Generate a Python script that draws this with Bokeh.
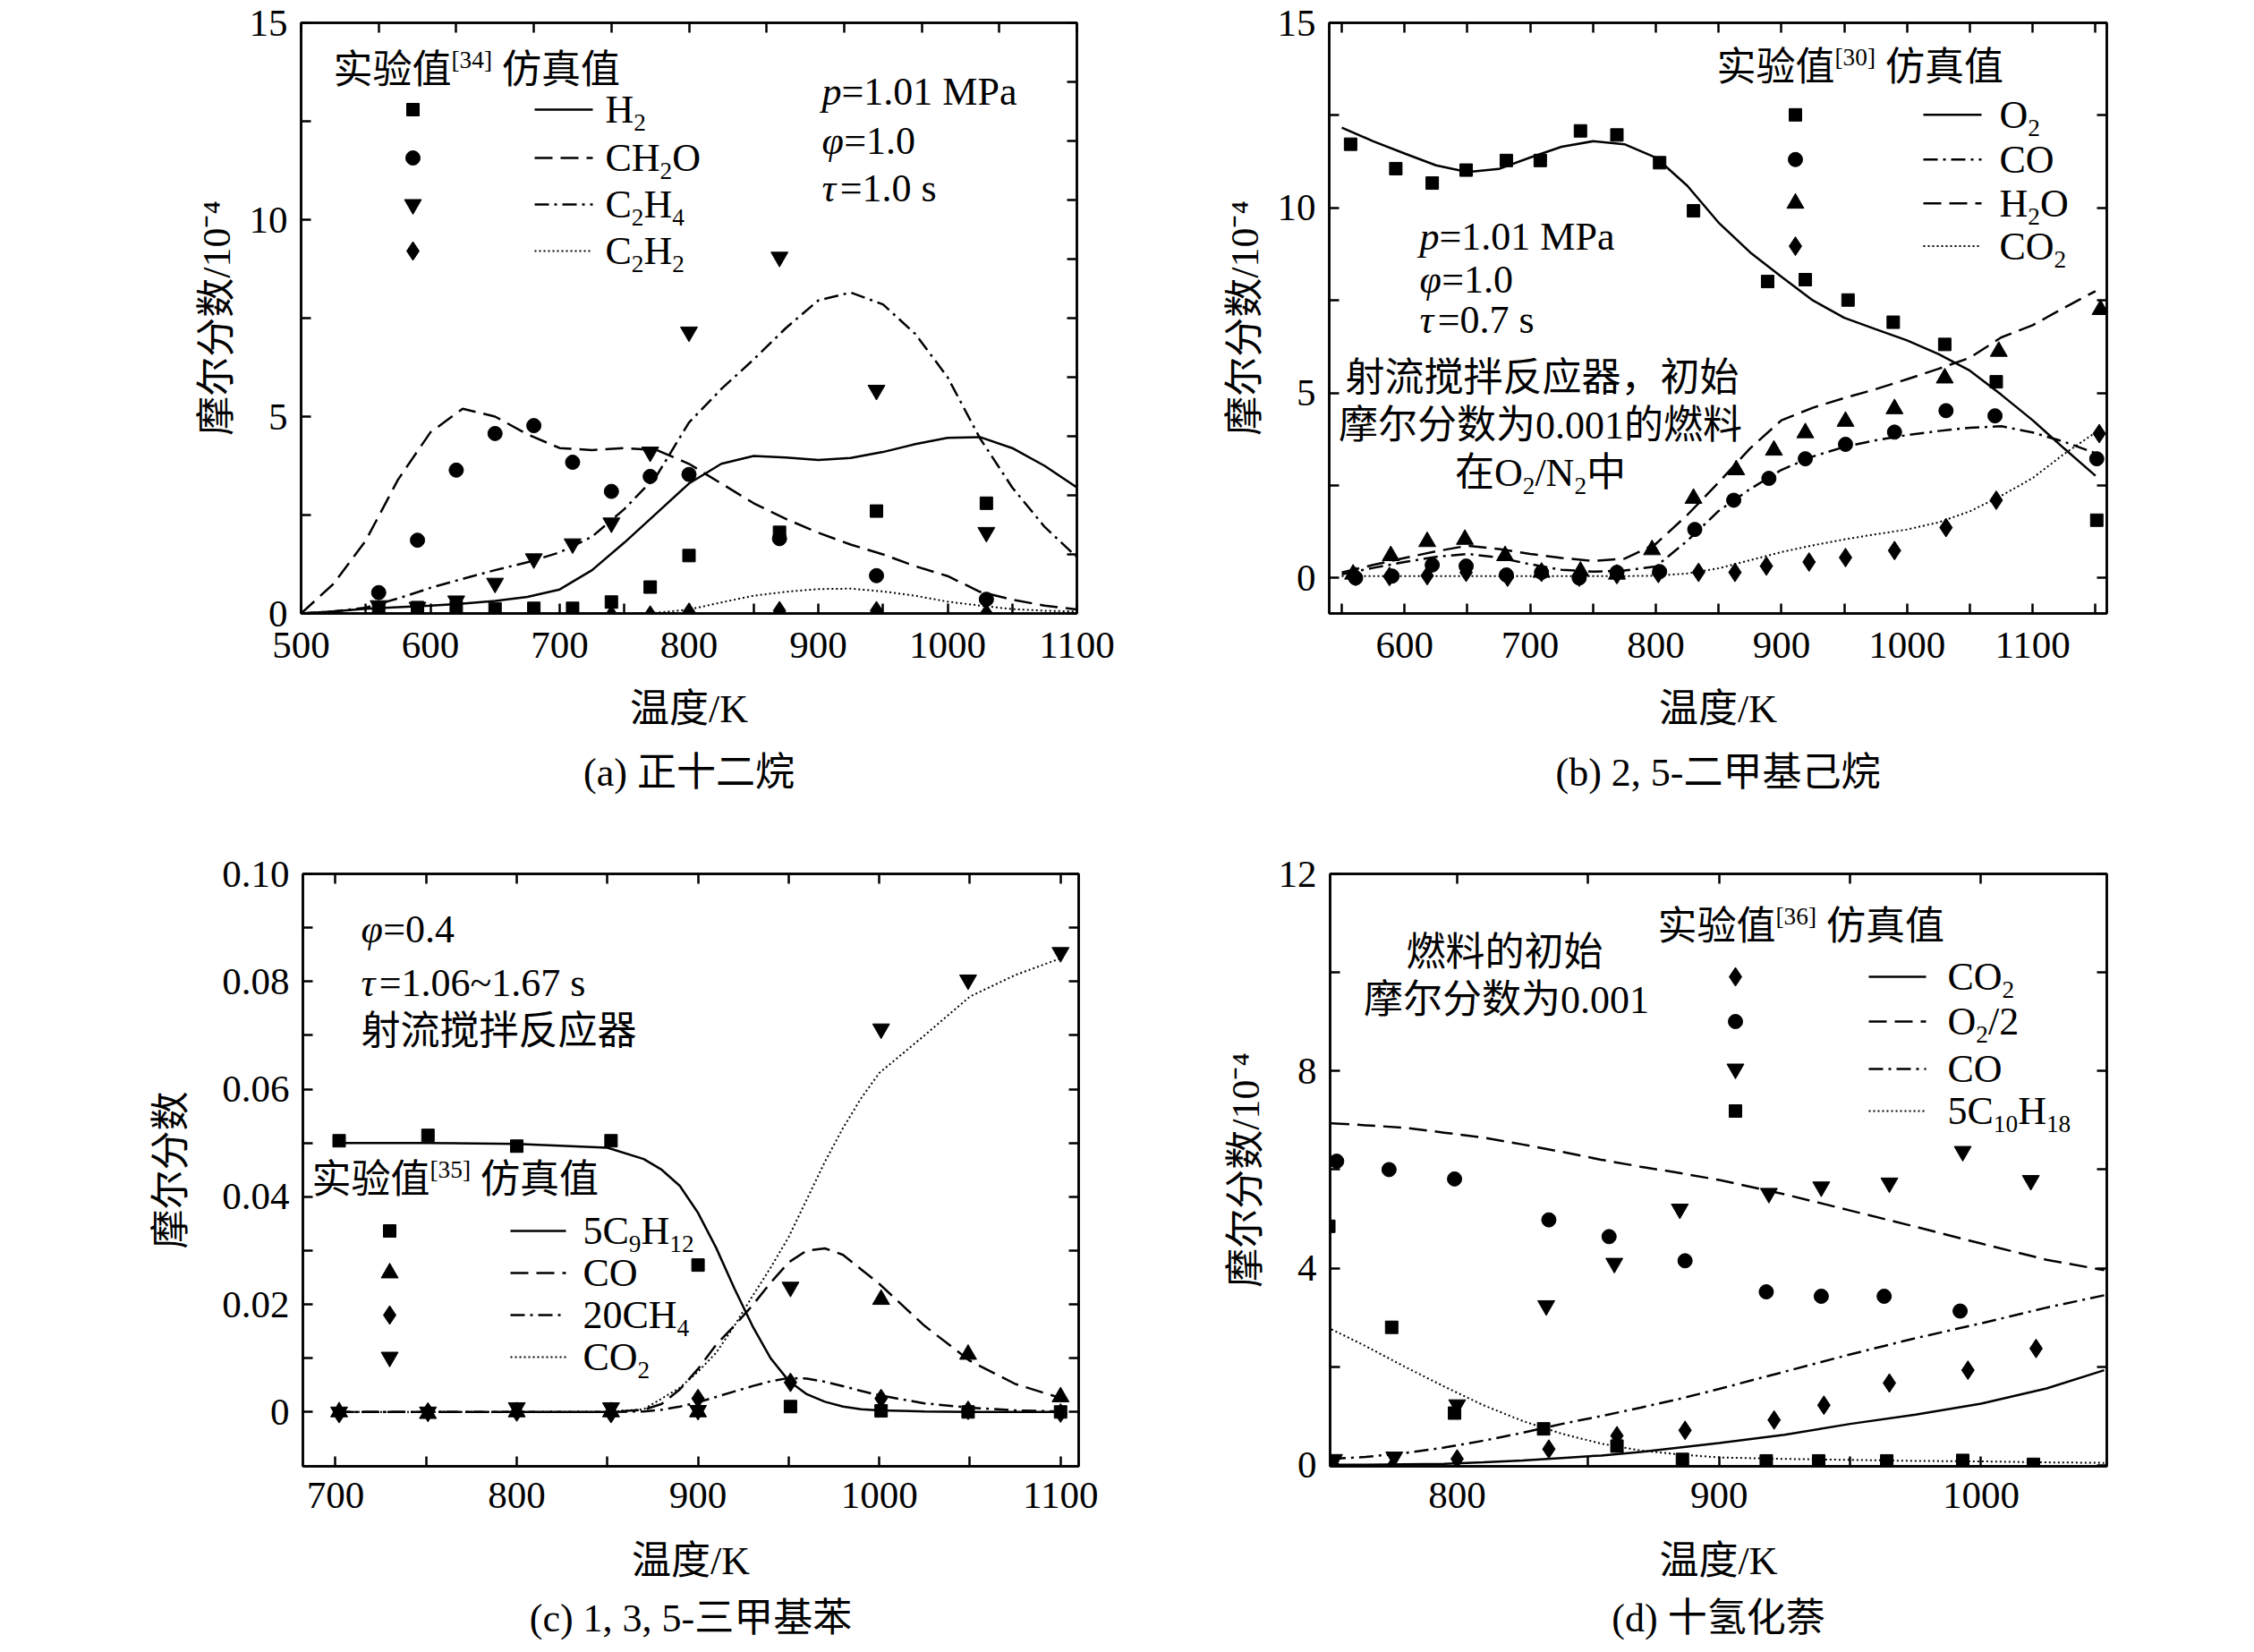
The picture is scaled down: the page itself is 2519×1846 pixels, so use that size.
from bokeh.plotting import figure
from bokeh.models import Range1d, FixedTicker, LinearAxis, NumeralTickFormatter
from bokeh.layouts import column, row
from bokeh.embed import file_html
from bokeh.resources import INLINE
from bokeh.core.properties import value

FONT = "'Liberation Serif', 'Noto Sans CJK SC', serif"

# ================= DATA =================
# ---- (a) n-dodecane ----
a_T_exp = [560, 590, 620, 650, 680, 710, 740, 770, 800, 870, 945, 1030]
a_H2_exp = [0.13, 0.15, 0.16, 0.12, 0.13, 0.13, 0.29, 0.67, 1.47, 2.06, 2.60, 2.80]
a_CH2O_exp = [0.53, 1.86, 3.64, 4.57, 4.77, 3.84, 3.10, 3.48, 3.53, 1.90, 0.96, 0.36]
a_C2H4_exp = [0.20, 0.16, 0.32, 0.77, 1.39, 1.77, 2.30, 4.10, 7.15, 9.05, 5.67, 2.06]
a_C2H2_exp = [-0.04, -0.04, -0.04, -0.04, -0.04, -0.04, -0.04, -0.04, 0.03, 0.07, 0.07, 0.0]

a_T_sim = [500, 525, 550, 575, 600, 625, 650, 675, 700, 725, 750, 775, 800,
           825, 850, 875, 900, 925, 950, 975, 1000, 1025, 1050, 1075, 1100]
a_H2_sim = [0.0, 0.05, 0.12, 0.16, 0.20, 0.25, 0.32, 0.42, 0.61, 1.10, 1.80, 2.55, 3.30,
            3.80, 4.00, 3.96, 3.90, 3.95, 4.10, 4.30, 4.46, 4.48, 4.20, 3.75, 3.20]
a_CH2O_sim = [0.0, 0.75, 1.85, 3.40, 4.60, 5.20, 5.00, 4.55, 4.20, 4.15, 4.20, 4.15, 3.80,
              3.30, 2.80, 2.40, 2.05, 1.75, 1.50, 1.20, 0.95, 0.55, 0.35, 0.20, 0.10]
a_C2H4_sim = [0.0, 0.05, 0.15, 0.38, 0.65, 0.88, 1.10, 1.30, 1.55, 1.95, 2.65, 3.50, 4.85,
              5.70, 6.45, 7.25, 7.95, 8.15, 7.85, 7.10, 6.00, 4.45, 3.20, 2.20, 1.43]
a_C2H2_sim = [0.0, 0.0, 0.0, 0.0, 0.0, 0.0, 0.0, 0.0, 0.0, 0.0, 0.0, 0.02, 0.10,
              0.28, 0.45, 0.55, 0.62, 0.63, 0.56, 0.45, 0.30, 0.20, 0.11, 0.07, 0.05]

# ---- (b) 2,5-dimethylhexane ----
b_T_O2_exp = [557, 593, 622, 649, 681, 708, 740, 769, 803, 830, 889, 919, 953, 989, 1030, 1071, 1151]
b_O2_exp = [11.72, 11.06, 10.67, 11.02, 11.28, 11.28, 12.08, 11.97, 11.22, 9.92, 8.01, 8.06,
            7.51, 6.91, 6.31, 5.30, 1.56]
b_T_CO_exp = [561, 590, 622, 649, 681, 709, 739, 769, 803, 831, 862, 890, 919, 951, 990, 1031, 1070, 1151]
b_CO_exp = [0.0, 0.05, 0.35, 0.32, 0.08, 0.15, 0.0, 0.15, 0.17, 1.31, 2.10, 2.69, 3.22, 3.61,
            3.94, 4.52, 4.38, 3.22]
b_T_H2O_exp = [559, 589, 618, 648, 680, 709, 740, 769, 797, 830, 864, 894, 919, 951, 990, 1030, 1073, 1154]
b_H2O_exp = [0.10, 0.60, 0.98, 1.04, 0.60, 0.15, 0.18, 0.10, 0.76, 2.15, 2.92, 3.45, 3.92, 4.23,
             4.57, 5.40, 6.12, 7.25]
b_T_CO2_exp = [561, 588, 618, 649, 682, 709, 739, 769, 802, 834, 863, 888, 922, 951, 990, 1031, 1071, 1153]
b_CO2_exp = [0.04, 0.04, 0.06, 0.15, 0.02, 0.15, 0.02, 0.09, 0.12, 0.15, 0.15, 0.32, 0.43, 0.55,
             0.74, 1.36, 2.10, 3.90]

b_T_sim = [550, 575, 600, 625, 650, 675, 700, 725, 750, 775, 800, 825, 850,
           875, 900, 925, 950, 975, 1000, 1025, 1050, 1075, 1100, 1125, 1150]
b_O2_sim = [12.17, 11.80, 11.47, 11.15, 10.97, 11.05, 11.36, 11.65, 11.80, 11.72, 11.36, 10.60, 9.60,
            8.80, 8.14, 7.50, 7.03, 6.72, 6.42, 6.05, 5.60, 4.95, 4.26, 3.50, 2.76]
b_CO_sim = [0.10, 0.27, 0.43, 0.57, 0.65, 0.55, 0.37, 0.22, 0.17, 0.20, 0.31, 1.00, 1.81,
            2.40, 2.92, 3.28, 3.54, 3.72, 3.86, 3.97, 4.06, 4.10, 3.93, 3.68, 3.37]
b_H2O_sim = [0.15, 0.35, 0.54, 0.72, 0.87, 0.78, 0.65, 0.54, 0.46, 0.52, 0.92, 1.70, 2.58,
             3.50, 4.26, 4.60, 4.86, 5.10, 5.37, 5.65, 5.95, 6.50, 6.83, 7.30, 7.75]
b_CO2_sim = [0.05, 0.05, 0.05, 0.05, 0.05, 0.05, 0.05, 0.05, 0.05, 0.05, 0.06, 0.12, 0.26,
             0.48, 0.70, 0.88, 1.04, 1.18, 1.31, 1.50, 1.80, 2.22, 2.70, 3.35, 3.93]

# ---- (c) 1,3,5-trimethylbenzene ----
c_T_exp = [702, 751, 800, 852, 900, 951, 1001, 1049, 1100]
c_C9H12_exp = [0.0504, 0.0514, 0.0494, 0.0504, 0.0273, 0.0010, 0.0002, 0.0000, 0.0000]
c_CO_exp = [0.0000, -0.0003, 0.0000, 0.0000, 0.0000, float("nan"), 0.0209, 0.0107, 0.0028]
c_CH4_exp = [-0.0003, 0.0000, 0.0000, -0.0003, 0.0025, 0.0055, 0.0025, 0.0003, -0.0002]
c_CO2_exp = [0.0000, 0.0000, 0.0008, 0.0008, 0.0003, 0.0232, 0.0712, 0.0803, 0.0854]

c_T_sim = [700, 750, 800, 850, 870, 880, 890, 900, 910, 920, 930, 940, 950,
           960, 970, 980, 990, 1000, 1025, 1050, 1075, 1100]
c_C9H12_sim = [0.0500, 0.0500, 0.0498, 0.0491, 0.0470, 0.0450, 0.0420, 0.0370, 0.0305, 0.0230,
               0.0160, 0.0100, 0.0058, 0.0033, 0.0019, 0.0010, 0.0005, 0.0003, 0.0001, 0.0, 0.0, 0.0]
c_CO_sim = [0.0, 0.0, 0.0, 0.0, 0.0004, 0.0015, 0.0042, 0.0080, 0.0125, 0.0160, 0.0198, 0.0240,
            0.0278, 0.0300, 0.0304, 0.0292, 0.0265, 0.0238, 0.0160, 0.0095, 0.0052, 0.0026]
c_CH4_sim = [0.0, 0.0, 0.0, 0.0, 0.0001, 0.0004, 0.0010, 0.0018, 0.0028, 0.0038, 0.0048, 0.0057,
             0.0063, 0.0062, 0.0056, 0.0048, 0.0039, 0.0031, 0.0016, 0.0008, 0.0003, 0.0001]
c_CO2_sim = [0.0, 0.0, 0.0, 0.0, 0.0005, 0.0025, 0.0045, 0.0075, 0.0110, 0.0160, 0.0215, 0.0268,
             0.0325, 0.0395, 0.0465, 0.0528, 0.0583, 0.0630, 0.0700, 0.0772, 0.0812, 0.0843]

# ---- (d) decalin ----
d_T_CO2_exp = [753, 775, 800, 835, 861, 887, 921, 940, 965, 995, 1021]
d_CO2_exp = [-0.02, -0.05, 0.13, 0.33, 0.60, 0.71, 0.92, 1.22, 1.67, 1.93, 2.37]
d_T_O2_exp = [754, 774, 799, 835, 858, 887, 918, 939, 963, 992]
d_O2_exp = [6.17, 6.00, 5.81, 4.98, 4.64, 4.15, 3.52, 3.43, 3.43, 3.13]
d_T_CO_exp = [753, 776, 800, 834, 860, 885, 919, 939, 965, 993, 1019]
d_CO_exp = [0.12, 0.17, 1.23, 3.24, 4.10, 5.20, 5.52, 5.65, 5.73, 6.37, 5.78]
d_T_C10H18_exp = [751, 775, 799, 833, 861, 886, 918, 938, 964, 993, 1020]
d_C10H18_exp = [4.85, 2.80, 1.06, 0.74, 0.39, 0.12, 0.09, 0.09, 0.09, 0.10, 0.02]

d_T_sim = [752, 765, 780, 795, 810, 825, 840, 855, 870, 885, 900, 925, 950, 975, 1000, 1025, 1047]
d_CO2_sim = [0.01, 0.01, 0.02, 0.03, 0.06, 0.10, 0.15, 0.20, 0.27, 0.36, 0.45, 0.62, 0.84,
             1.03, 1.25, 1.56, 1.93]
d_O2_sim = [6.94, 6.90, 6.85, 6.75, 6.65, 6.51, 6.36, 6.20, 6.06, 5.93, 5.79, 5.50, 5.17,
            4.84, 4.50, 4.17, 3.96]
d_CO_sim = [0.13, 0.17, 0.25, 0.36, 0.50, 0.66, 0.84, 1.00, 1.17, 1.35, 1.55, 1.90, 2.25,
            2.58, 2.88, 3.20, 3.45]
d_C10H18_sim = [2.76, 2.42, 2.00, 1.60, 1.22, 0.90, 0.64, 0.44, 0.30, 0.22, 0.16, 0.13, 0.11,
                0.09, 0.08, 0.06, 0.05]

# texts
captions = ["(a) 正十二烷", "(b) 2, 5-二甲基己烷", "(c) 1, 3, 5-三甲基苯", "(d) 十氢化萘"]
x_title = "温度/K"
y_title_e4 = "摩尔分数/10⁻⁴"
y_title_c = "摩尔分数"

# ================= LAYOUT =================
# (fig origin x, y, width, height, frame left, right, top, bottom) in page pixels
SPEC = {
    "a": (0, 0, 1250, 915, 336, 1203, 21, 681),
    "b": (1250, 0, 1250, 915, 1485, 2354, 21, 682),
    "c": (0, 915, 1250, 929, 338, 1205, 976, 1638),
    "d": (1250, 915, 1250, 929, 1486, 2354, 976, 1638),
}

EM = {' ': 0.25, '.': 0.25, ',': 0.25, '=': 0.564, '~': 0.541, '/': 0.278, '(': 0.333, ')': 0.333,
      '[': 0.333, ']': 0.333, '-': 0.333, 'C': 0.667, 'H': 0.722, 'O': 0.722, 'N': 0.722,
      'M': 0.889, 'P': 0.556, 'K': 0.722, 'a': 0.444, 's': 0.389, 'p': 0.5, 'φ': 0.56, 'τ': 0.46}


def em_width(s):
    w = 0.0
    for ch in s:
        if ord(ch) >= 0x2E80:
            w += 1.0
        else:
            w += EM.get(ch, 0.5)
    return w


class Panel:
    def __init__(self, key, xr, yr, caption, ylabel, xmaj, xmin, ymaj, ymin, xtop, yright,
                 xlab_standoff=15, axlab_standoff=20, ylab_standoff=20, title_standoff=20,
                 ylabels=None, dy=0):
        ox, oy, fw, fh, L, R, T, B = SPEC[key]
        self.L, self.R, self.T, self.B = L, R, T, B
        self.xr, self.yr = xr, yr
        p = figure(width=fw, height=fh, x_range=Range1d(*xr), y_range=Range1d(*yr),
                   output_backend="svg", toolbar_location=None,
                   min_border_left=L - ox, min_border_right=ox + fw - R,
                   min_border_top=T - oy + dy, min_border_bottom=oy + fh - B - dy,
                   title=caption, title_location="below")
        p.background_fill_color = "white"
        p.border_fill_color = "white"
        p.outline_line_color = "black"
        p.outline_line_width = 2.5
        p.xgrid.visible = False
        p.ygrid.visible = False
        p.title.align = "center"
        p.title.text_font = FONT
        p.title.text_font_size = "44px"
        p.title.text_font_style = "normal"
        p.title.text_color = "black"
        p.title.standoff = title_standoff

        xa = p.xaxis[0]
        ya = p.yaxis[0]
        xa.ticker = FixedTicker(ticks=xmaj, minor_ticks=xmin)
        ya.ticker = FixedTicker(ticks=ymaj, minor_ticks=ymin)
        if ylabels is not None:
            ya.formatter = NumeralTickFormatter(format="0.00")
            ya.major_label_overrides = ylabels
        for ax in (xa, ya):
            self.style(ax, True)
        xa.major_label_standoff = xlab_standoff
        ya.major_label_standoff = 15
        xa.axis_label = x_title
        ya.axis_label = ylabel
        xa.axis_label_standoff = axlab_standoff
        ya.axis_label_standoff = ylab_standoff
        for ax in (xa, ya):
            ax.axis_label_text_font = FONT
            ax.axis_label_text_font_size = "44px"
            ax.axis_label_text_font_style = "normal"
            ax.axis_label_text_color = "black"

        top = LinearAxis(ticker=FixedTicker(ticks=xtop, minor_ticks=[]))
        self.style(top, False)
        p.add_layout(top, "above")
        right = LinearAxis(ticker=FixedTicker(ticks=yright, minor_ticks=[]))
        self.style(right, False)
        p.add_layout(right, "right")
        self.p = p

    @staticmethod
    def style(ax, labels):
        ax.axis_line_width = 2.5
        ax.axis_line_color = "black"
        ax.major_tick_in = 11
        ax.major_tick_out = 0
        ax.minor_tick_in = 11
        ax.minor_tick_out = 0
        ax.major_tick_line_width = 2.5
        ax.minor_tick_line_width = 2.5
        ax.major_tick_line_color = "black"
        ax.minor_tick_line_color = "black"
        ax.major_label_text_font = FONT
        if labels:
            ax.major_label_text_font_size = "43px"
            ax.major_label_text_color = "black"
        else:
            ax.major_label_text_font_size = "1px"
            ax.major_label_text_color = None
            ax.major_label_standoff = 0

    # reference-page pixel -> data
    def X(self, sx):
        return self.xr[0] + (sx - self.L) / (self.R - self.L) * (self.xr[1] - self.xr[0])

    def Y(self, sy):
        return self.yr[1] - (sy - self.T) / (self.B - self.T) * (self.yr[1] - self.yr[0])

    def rich(self, sx, sy, parts, size=44, align="left"):
        total = 0.0
        for t, k in parts:
            fs = size * 0.62 if k in ("sub", "sup") else size
            total += em_width(t) * fs
        x = sx if align == "left" else sx - total / 2.0
        for t, k in parts:
            fs = size * 0.62 if k in ("sub", "sup") else size
            if k == "sub":
                cy = sy + 0.33 * size
            elif k == "sup":
                cy = sy - 0.27 * size
            else:
                cy = sy
            self.p.text(x=[self.X(x)], y=[self.Y(cy)], text=[t],
                        text_font=value(FONT), text_font_size=value("%.1fpx" % fs),
                        text_font_style=value("italic" if k == "i" else "normal"),
                        text_baseline="middle", text_align="left", text_color="black")
            x += em_width(t) * fs

    def legend(self, mx, lx0, lx1, tx, rows, entries):
        for sy, (marker, msize, dash, lw, parts) in zip(rows, entries):
            self.p.scatter([self.X(mx)], [self.Y(sy)], marker=marker, size=msize, color="black")
            self.p.line([self.X(lx0), self.X(lx1)], [self.Y(sy), self.Y(sy)],
                        line_color="black", line_width=lw, line_dash=dash)
            self.rich(tx, sy, parts)

    def header(self, sx, sy, ref):
        self.rich(sx, sy, [("实验值", "n"), (ref, "sup"), (" ", "n"), ("仿真值", "n")])


SOLID, DASH, DASHDOT, DOT = "solid", "20 9", "16 6 3 6", "2 3"
MS = {"square": 14, "circle": 16, "inverted_triangle": 19, "triangle": 19, "diamond": 21}


def series(P, T, Y, marker):
    P.p.scatter(T, Y, marker=marker, size=MS[marker], color="black")


def curve(P, T, Y, dash, lw=2.5):
    P.p.line(T, Y, line_color="black", line_width=lw, line_dash=dash)


# ---------------- panel (a) ----------------
A = Panel("a", (500, 1100), (0, 15), captions[0], y_title_e4,
          [500, 600, 700, 800, 900, 1000, 1100], [550, 650, 750, 850, 950, 1050],
          [0, 5, 10, 15], [2.5, 7.5, 12.5],
          [500 + 60 * i for i in range(11)], [1.5 * i for i in range(11)],
          xlab_standoff=21, axlab_standoff=30, ylab_standoff=9, title_standoff=34, dy=4)
curve(A, a_T_sim, a_H2_sim, SOLID)
curve(A, a_T_sim, a_CH2O_sim, DASH)
curve(A, a_T_sim, a_C2H4_sim, DASHDOT)
curve(A, a_T_sim, a_C2H2_sim, DOT, 2)
series(A, a_T_exp, a_H2_exp, "square")
series(A, a_T_exp, a_CH2O_exp, "circle")
series(A, a_T_exp, a_C2H4_exp, "inverted_triangle")
series(A, a_T_exp, a_C2H2_exp, "diamond")
A.header(372, 74, "[34]")
A.legend(461, 597, 662, 676, [118, 172, 224, 276], [
    ("square", 14, SOLID, 2.5, [("H", "n"), ("2", "sub")]),
    ("circle", 16, DASH, 2.5, [("CH", "n"), ("2", "sub"), ("O", "n")]),
    ("inverted_triangle", 19, DASHDOT, 2.5, [("C", "n"), ("2", "sub"), ("H", "n"), ("4", "sub")]),
    ("diamond", 21, DOT, 2, [("C", "n"), ("2", "sub"), ("H", "n"), ("2", "sub")]),
])
A.rich(918, 98, [("p", "i"), ("=1.01 MPa", "n")])
A.rich(918, 153, [("φ", "i"), ("=1.0", "n")])
A.rich(918, 206, [("τ", "i"), ("=1.0 s", "n")])

# ---------------- panel (b) ----------------
Bp = Panel("b", (540, 1159), (-0.96, 15), captions[1], y_title_e4,
           [600, 700, 800, 900, 1000, 1100], [550, 650, 750, 850, 950, 1050, 1150],
           [0, 5, 10, 15], [2.5, 7.5, 12.5],
           [550 + 50 * i for i in range(13)], [2.5 * i for i in range(7)],
           xlab_standoff=21, axlab_standoff=30, ylab_standoff=9, title_standoff=34, dy=4)
curve(Bp, b_T_sim, b_O2_sim, SOLID)
curve(Bp, b_T_sim, b_CO_sim, DASHDOT)
curve(Bp, b_T_sim, b_H2O_sim, DASH)
curve(Bp, b_T_sim, b_CO2_sim, DOT, 2)
series(Bp, b_T_O2_exp, b_O2_exp, "square")
series(Bp, b_T_CO_exp, b_CO_exp, "circle")
series(Bp, b_T_H2O_exp, b_H2O_exp, "triangle")
series(Bp, b_T_CO2_exp, b_CO2_exp, "diamond")
Bp.header(1918, 71, "[30]")
Bp.legend(2006, 2149, 2214, 2234, [124, 174, 223, 271], [
    ("square", 14, SOLID, 2.5, [("O", "n"), ("2", "sub")]),
    ("circle", 16, DASHDOT, 2.5, [("CO", "n")]),
    ("triangle", 19, DASH, 2.5, [("H", "n"), ("2", "sub"), ("O", "n")]),
    ("diamond", 21, DOT, 2, [("CO", "n"), ("2", "sub")]),
])
Bp.rich(1586, 260, [("p", "i"), ("=1.01 MPa", "n")])
Bp.rich(1586, 308, [("φ", "i"), ("=1.0", "n")])
Bp.rich(1586, 354, [("τ", "i"), ("=0.7 s", "n")])
Bp.rich(1723, 419, [("射流搅拌反应器，初始", "n")], align="center")
Bp.rich(1721, 472, [("摩尔分数为0.001的燃料", "n")], align="center")
Bp.rich(1721, 525, [("在O", "n"), ("2", "sub"), ("/N", "n"), ("2", "sub"), ("中", "n")], align="center")

# ---------------- panel (c) ----------------
c_ytick_labels = {0: "0", 0.02: "0.02", 0.04: "0.04", 0.06: "0.06", 0.08: "0.08", 0.1: "0.10"}
C = Panel("c", (682, 1110), (-0.0101, 0.1), captions[2], y_title_c,
          [700, 800, 900, 1000, 1100], [750, 850, 950, 1050],
          [0, 0.02, 0.04, 0.06, 0.08, 0.1], [0.01, 0.03, 0.05, 0.07, 0.09],
          [700 + 50 * i for i in range(9)], [0.01 * i for i in range(11)],
          xlab_standoff=18, axlab_standoff=32, ylab_standoff=29, title_standoff=21,
          ylabels=c_ytick_labels)
curve(C, c_T_sim, c_C9H12_sim, SOLID)
curve(C, c_T_sim, c_CO_sim, DASH)
curve(C, c_T_sim, c_CH4_sim, DASHDOT)
curve(C, c_T_sim, c_CO2_sim, DOT, 2)
series(C, c_T_exp, c_C9H12_exp, "square")
series(C, c_T_exp, c_CO_exp, "triangle")
series(C, c_T_exp, c_CH4_exp, "diamond")
series(C, c_T_exp, c_CO2_exp, "inverted_triangle")
C.rich(403, 1038, [("φ", "i"), ("=0.4", "n")])
C.rich(403, 1098, [("τ", "i"), ("=1.06~1.67 s", "n")])
C.rich(403, 1152, [("射流搅拌反应器", "n")])
C.header(348, 1318, "[35]")
C.legend(435, 570, 632, 651, [1375, 1422, 1469, 1516], [
    ("square", 14, SOLID, 2.5, [("5C", "n"), ("9", "sub"), ("H", "n"), ("12", "sub")]),
    ("triangle", 19, DASH, 2.5, [("CO", "n")]),
    ("diamond", 21, DASHDOT, 2.5, [("20CH", "n"), ("4", "sub")]),
    ("inverted_triangle", 19, DOT, 2, [("CO", "n"), ("2", "sub")]),
])

# ---------------- panel (d) ----------------
D = Panel("d", (751.5, 1048), (-0.02, 12), captions[3], y_title_e4,
          [800, 900, 1000], [850, 950],
          [0, 4, 8, 12], [2, 6, 10],
          [800, 850, 900, 950, 1000], [2 * i for i in range(7)],
          xlab_standoff=18, axlab_standoff=32, ylab_standoff=9, title_standoff=21)
curve(D, d_T_sim, d_CO2_sim, SOLID)
curve(D, d_T_sim, d_O2_sim, DASH)
curve(D, d_T_sim, d_CO_sim, DASHDOT)
curve(D, d_T_sim, d_C10H18_sim, DOT, 2)
series(D, d_T_CO2_exp, d_CO2_exp, "diamond")
series(D, d_T_O2_exp, d_O2_exp, "circle")
series(D, d_T_CO_exp, d_CO_exp, "inverted_triangle")
series(D, d_T_C10H18_exp, d_C10H18_exp, "square")
D.rich(1681, 1064, [("燃料的初始", "n")], align="center")
D.rich(1683, 1117, [("摩尔分数为0.001", "n")], align="center")
D.header(1852, 1035, "[36]")
D.legend(1939, 2088, 2152, 2176, [1091, 1141, 1194, 1241], [
    ("diamond", 21, SOLID, 2.5, [("CO", "n"), ("2", "sub")]),
    ("circle", 16, DASH, 2.5, [("O", "n"), ("2", "sub"), ("/2", "n")]),
    ("inverted_triangle", 19, DASHDOT, 2.5, [("CO", "n")]),
    ("square", 14, DOT, 2, [("5C", "n"), ("10", "sub"), ("H", "n"), ("18", "sub")]),
])

layout = column(row(A.p, Bp.p), row(C.p, D.p))
with open("out.html", "w") as f:
    f.write(file_html(layout, INLINE, title="plot"))
